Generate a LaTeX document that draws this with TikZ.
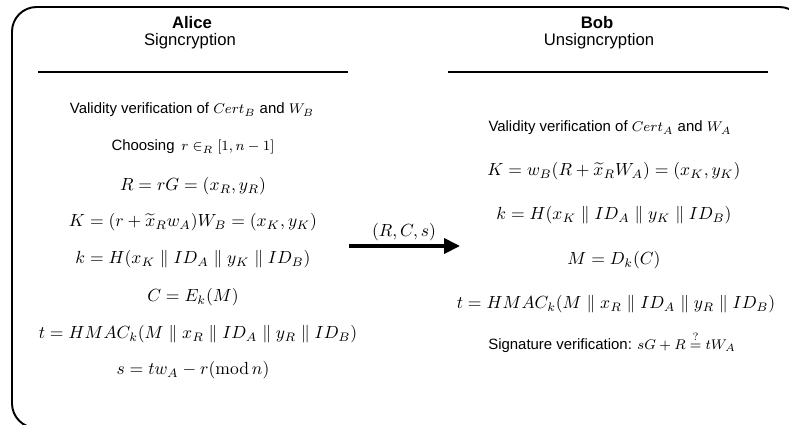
\documentclass[tikz,border=0pt]{standalone}
\usepackage[no-math]{fontspec}
\setmainfont{Liberation Sans}
\usetikzlibrary{arrows.meta}

\tikzset{
  party/.style={font=\fontsize{9.5}{11}\selectfont\bfseries, inner sep=0pt},
  phase/.style={font=\fontsize{9.5}{11}\selectfont, inner sep=0pt},
  line/.style={font=\fontsize{8.5}{10}\selectfont, inner sep=0pt},
  eqn/.style={font=\fontsize{10}{12}\selectfont, inner sep=0pt},
}

\begin{document}
\begin{tikzpicture}[x=0.02cm,y=-0.02cm]
\useasboundingbox (0,0) rectangle (789,424);
\begin{scope}
\clip (0,0) rectangle (789,424);
\draw[line width=1.1pt, rounded corners=14pt] (12,7) rectangle (804,428);
\end{scope}

% Alice side
\node[party] (alice) at (192,23) {Alice};
\node[phase] (sign) at (190,41) {Signcryption};
\draw[line width=0.9pt] (38,72) -- (348,72);

\node[line] (a1) at (192,110) {Validity verification of $Cert_B$ and $W_B$};
\node[line] (a2) at (193,147) {Choosing\, $r\in_R[1,n-1]$};
\node[eqn] (a3) at (193,186) {$R=rG=(x_R,y_R)$};
\node[eqn] (a4) at (193,222) {$K=(r+\widetilde{x}_Rw_A)W_B=(x_K,y_K)$};
\node[eqn] (a5) at (193,259) {$k=H(x_K\parallel ID_A\parallel y_K\parallel ID_B)$};
\node[eqn] (a6) at (193,297) {$C=E_k(M)$};
\node[eqn] (a7) at (198,334) {$t=HMAC_k(M\parallel x_R\parallel ID_A\parallel y_R\parallel ID_B)$};
\node[eqn] (a8) at (193,370) {$s=tw_A-r(\mathrm{mod}\,n)$};

% Bob side
\node[party] (bob) at (597,23) {Bob};
\node[phase] (unsign) at (599,41) {Unsigncryption};
\draw[line width=0.9pt] (448,72) -- (768,72);

\node[line] (b1) at (610,128) {Validity verification of $Cert_A$ and $W_A$};
\node[eqn] (b2) at (614,171) {$K=w_B(R+\widetilde{x}_RW_A)=(x_K,y_K)$};
\node[eqn] (b3) at (614,215) {$k=H(x_K\parallel ID_A\parallel y_K\parallel ID_B)$};
\node[eqn] (b4) at (614,260) {$M=D_k(C)$};
\node[eqn] (b5) at (616,304) {$t=HMAC_k(M\parallel x_R\parallel ID_A\parallel y_R\parallel ID_B)$};
\node[line] (b6) at (612,342) {Signature verification: $sG+R\stackrel{?}{=}tW_A$};

% transmission
\coordinate (sendL) at (349,246);
\coordinate (sendR) at (460,246);
\draw[line width=2pt, -{Triangle[length=9pt,width=8.5pt]}] (sendL) -- (sendR);
\node[eqn] (msg) at (404,232) {$(R,C,s)$};
\end{tikzpicture}
\end{document}
